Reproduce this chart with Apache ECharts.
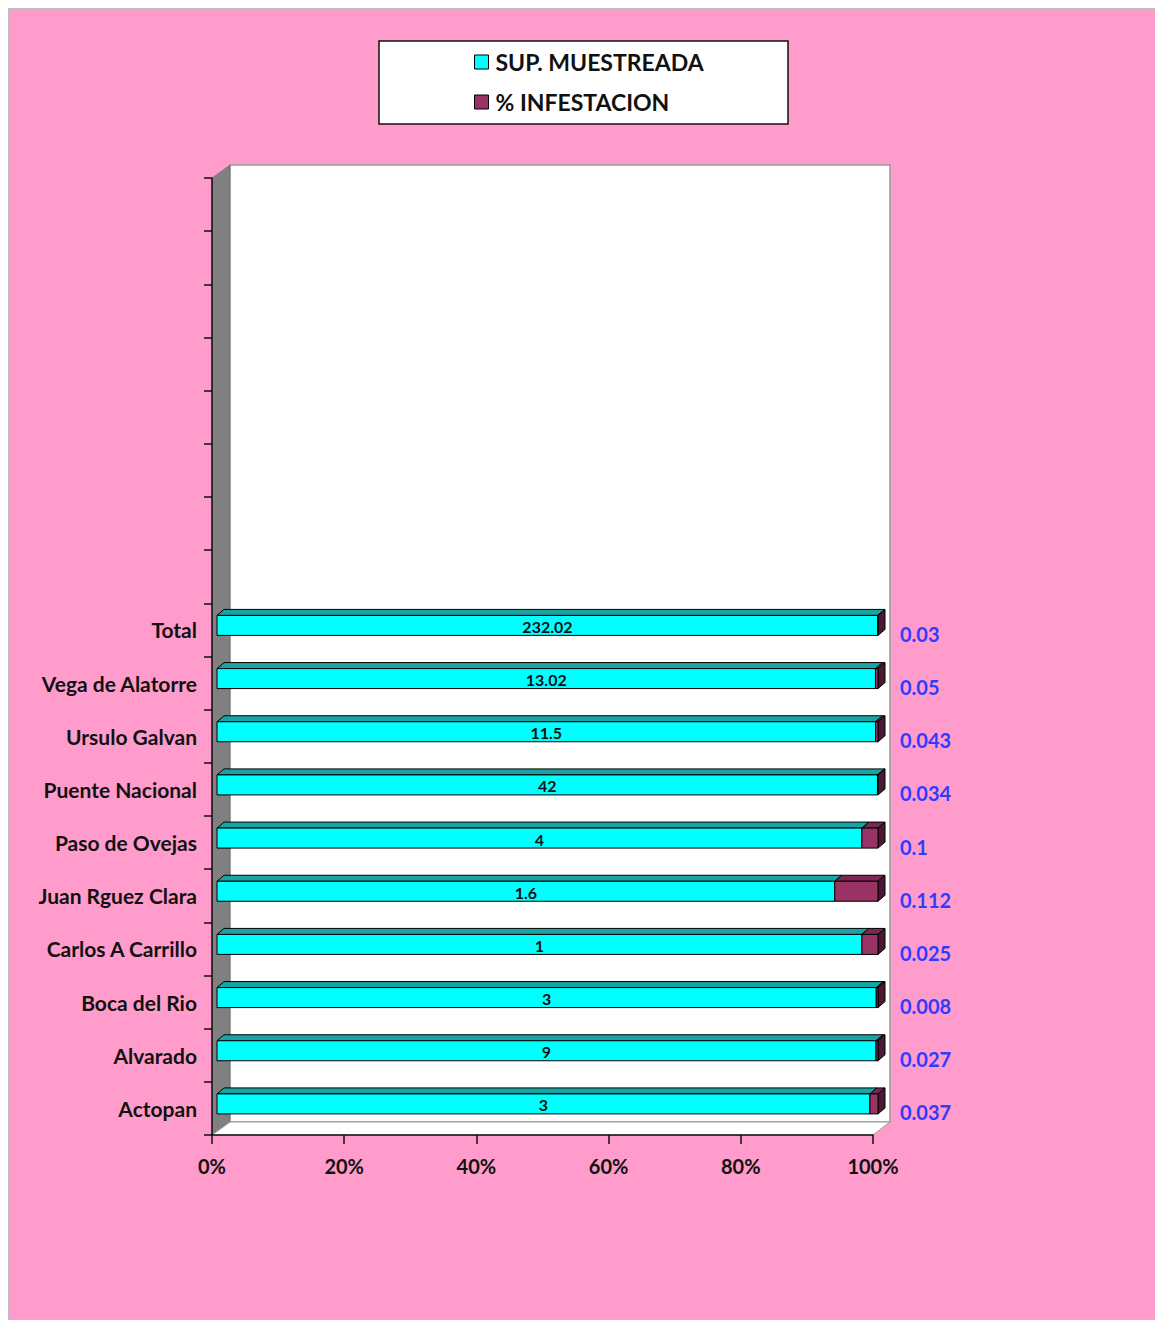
<!DOCTYPE html>
<html><head><meta charset="utf-8">
<script src="https://cdn.jsdelivr.net/npm/echarts@6/dist/echarts.min.js"></script>
<style>html,body{margin:0;padding:0;background:#fff}#c{width:1155px;height:1320px}</style>
</head><body><div id="c"></div>
<script>
// ---- data ----
const categories = ['Actopan', 'Alvarado', 'Boca del Rio', 'Carlos A Carrillo', 'Juan Rguez Clara',
  'Paso de Ovejas', 'Puente Nacional', 'Ursulo Galvan', 'Vega de Alatorre', 'Total'];
const supMuestreada = [3, 9, 3, 1, 1.6, 4, 42, 11.5, 13.02, 232.02];
const pctInfestacion = [0.037, 0.027, 0.008, 0.025, 0.112, 0.1, 0.034, 0.043, 0.05, 0.03];
const emptySlots = 8;
const seriesNames = ['SUP. MUESTREADA', '% INFESTACION'];

// ---- derived (100% stacked) ----
const axisCategories = categories.concat(new Array(emptySlots).fill(''));
const cyanData = categories.map((c, i) => {
  const share = supMuestreada[i] / (supMuestreada[i] + pctInfestacion[i]) * 100;
  return [0, share, i, supMuestreada[i]];
});
const magData = categories.map((c, i) => {
  const share = supMuestreada[i] / (supMuestreada[i] + pctInfestacion[i]) * 100;
  return [share, 100, i, pctInfestacion[i]];
});

const FONT = 'Lato';
const DX = 7, DY = -6, H = 20, SX = 5, SY = -4.5;

function bar3D(front, top, side, withSide, labelMode) {
  return function (params, api) {
    const s = api.value(0), e = api.value(1), c = api.value(2), raw = api.value(3);
    const a = api.coord([s, c]), b = api.coord([e, c]);
    const x0 = a[0] + SX, x1 = b[0] + SX;
    const y0 = a[1] + SY - H / 2, y1 = y0 + H;
    const ch = [];
    ch.push({type: 'polygon', shape: {points: [[x0, y0], [x0 + DX, y0 + DY], [x1 + DX, y0 + DY], [x1, y0]]},
      style: {fill: top, stroke: '#000', lineWidth: 1}});
    if (withSide) {
      ch.push({type: 'polygon', shape: {points: [[x1, y0], [x1 + DX, y0 + DY], [x1 + DX, y1 + DY], [x1, y1]]},
        style: {fill: side, stroke: '#000', lineWidth: 1}});
    }
    ch.push({type: 'rect', shape: {x: x0, y: y0, width: Math.max(x1 - x0, 0), height: H},
      style: {fill: front, stroke: '#000', lineWidth: 1}});
    if (labelMode === 'inside') {
      ch.push({type: 'text', x: (x0 + x1) / 2, y: (y0 + y1) / 2 + 1,
        style: {text: String(raw), fill: '#111', fontFamily: FONT, fontWeight: 'bold', fontSize: 16,
          align: 'center', verticalAlign: 'middle'}});
    } else if (labelMode === 'right') {
      ch.push({type: 'text', x: b[0] + 27, y: a[1] + 4,
        style: {text: String(raw), fill: '#2f3cff', fontFamily: FONT, fontWeight: 'bold', fontSize: 20,
          align: 'left', verticalAlign: 'middle'}});
    }
    return {type: 'group', children: ch};
  };
}

const chart = echarts.init(document.getElementById('c'), null, {renderer: 'svg'});
chart.setOption({
  backgroundColor: '#ffffff',
  animation: false,
  graphic: {elements: [
    {type: 'rect', z: -20, shape: {x: 9, y: 9, width: 1146, height: 1311}, style: {fill: '#ff9ccb'}},
    {type: 'polyline', z: -19, shape: {points: [[8.5, 1320], [8.5, 8.5], [1155, 8.5]]}, style: {stroke: '#bdbdbd', lineWidth: 1, fill: null}},
    // back wall
    {type: 'rect', z: -18, shape: {x: 230, y: 165, width: 660, height: 957}, style: {fill: '#fff', stroke: '#9a9a9a', lineWidth: 1.5}},
    // left wall
    {type: 'polygon', z: -17, shape: {points: [[212, 178], [230, 165], [230, 1122], [212, 1135]]}, style: {fill: '#808080', stroke: '#666', lineWidth: 0.5}},
    // floor
    {type: 'polygon', z: -17, shape: {points: [[212, 1135], [230, 1122], [890, 1122], [873, 1135]]}, style: {fill: '#fff', stroke: '#9a9a9a', lineWidth: 1}},
    // legend box
    {type: 'rect', z: -16, shape: {x: 379, y: 41, width: 409, height: 83}, style: {fill: '#fff', stroke: '#111', lineWidth: 1.5}}
  ]},
  legend: {
    left: 474, top: 50, orient: 'vertical', padding: 0,
    itemWidth: 14, itemHeight: 14, itemGap: 16, icon: 'rect', selectedMode: false,
    itemStyle: {borderColor: '#000', borderWidth: 1},
    textStyle: {fontFamily: FONT, fontWeight: 'bold', fontSize: 23, lineHeight: 24, color: '#111', padding: [0, 0, 0, 2]},
    data: seriesNames
  },
  grid: {left: 212, top: 178, width: 661, height: 957, containLabel: false},
  xAxis: {
    type: 'value', min: 0, max: 100, interval: 20,
    axisLine: {show: true, lineStyle: {color: '#111', width: 1.5}},
    axisTick: {show: true, length: 9, lineStyle: {color: '#111', width: 1.5}},
    splitLine: {show: false},
    axisLabel: {formatter: '{value}%', margin: 21, fontFamily: FONT, fontWeight: 'bold', fontSize: 20, lineHeight: 20, color: '#111'}
  },
  yAxis: {
    type: 'category', data: axisCategories, boundaryGap: true,
    axisLine: {show: true, lineStyle: {color: '#111', width: 1.5}},
    axisTick: {show: true, length: 8, interval: 0, lineStyle: {color: '#111', width: 1.5}},
    axisLabel: {interval: 0, margin: 15, fontFamily: FONT, fontWeight: 'bold', fontSize: 21, color: '#111'},
    splitLine: {show: false}
  },
  series: [
    {name: seriesNames[0], type: 'custom', renderItem: bar3D('#00ffff', '#1aa3a3', '#0a6a6a', false, 'inside'),
      itemStyle: {color: '#00ffff'}, encode: {x: [0, 1], y: 2}, data: cyanData, z: 3},
    {name: seriesNames[1], type: 'custom', renderItem: bar3D('#993366', '#7a2a52', '#4a1a33', true, 'right'),
      itemStyle: {color: '#993366'}, encode: {x: [0, 1], y: 2}, data: magData, z: 4}
  ]
});
</script></body></html>
